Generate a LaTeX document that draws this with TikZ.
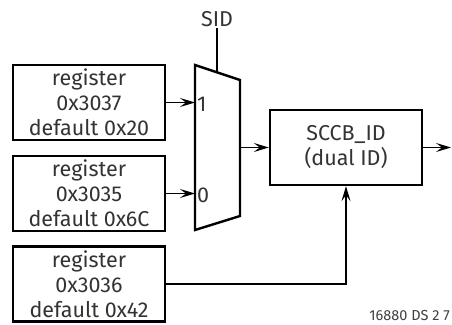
\documentclass[tikz,border=0pt]{standalone}
\usepackage{fontspec}
\setmainfont{Fira Sans}
\usetikzlibrary{arrows.meta,positioning}

\begin{document}
\begin{tikzpicture}[x=1pt,y=-1pt,
  regbox/.style={draw,line width=2.4pt,minimum width=152pt,minimum height=75pt,inner sep=0pt,align=center,text=black!80,font=\fontsize{21.5}{25}\selectfont},
  sig/.style={line width=1.2pt,-{Stealth[length=15pt,width=9pt,inset=6pt]}},
  lbl/.style={inner sep=1pt,text=black!80,font=\fontsize{21.5}{24}\selectfont}]
\useasboundingbox (0,0) rectangle (452,324);

% register boxes
\node [regbox] (reg37) at (89,102.5) {register\\0x3037\\default 0x20};
\node [regbox] (reg35) at (89,193.5) {register\\0x3035\\default 0x6C};
\node [regbox] (reg36) at (89,284) {register\\0x3036\\default 0x42};

% SCCB_ID block
\node [regbox] (sccb) at (346,147.5) {SCCB\_ID\\(dual ID)};

% mux
\draw [line width=2.4pt,line join=miter] (195,65) -- (240,80) -- (240,216) -- (195,230) -- cycle ;
\coordinate (in1) at (195,102.5);
\coordinate (in0) at (195,193.5);
\coordinate (muxsel) at (217,72.5);
\coordinate (muxout) at (240,147.5);
\coordinate (out) at (451,147.5);

% select input
\node [lbl] (sid) at (217,19) {SID};
\draw [line width=1.2pt] (sid.south) -- (muxsel) ;

% mux inputs
\node [lbl,anchor=west] (one) at (196,104) {1};
\node [lbl,anchor=west] (zero) at (196,195) {0};
\draw [sig] (reg37.east) -- (in1) ;
\draw [sig] (reg35.east) -- (in0) ;

% outputs
\draw [sig] (muxout) -- (sccb.west) ;
\draw [sig] (sccb.east) -- (out) ;
\draw [sig] (reg36.east) -| (sccb.south) ;

% Text Node
\node [anchor=east,inner sep=0pt,text=black!75,font=\fontsize{14.5}{16}\selectfont] (fig) at (450,315) {16880 DS 2 7};

\end{tikzpicture}
\end{document}
